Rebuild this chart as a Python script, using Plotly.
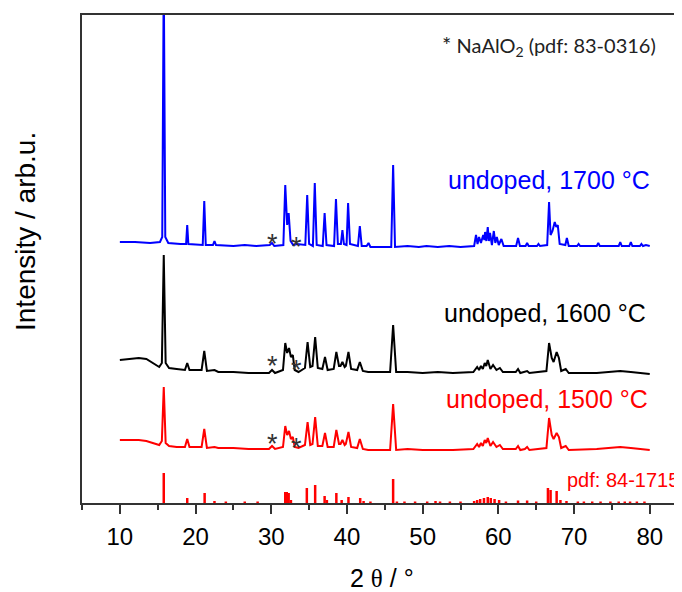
import plotly.graph_objects as go

# ---- data (2theta in degrees, intensity in arbitrary units incl. vertical offset) ----
tt_1700 = [10, 12, 14, 15.3, 15.6, 15.8, 16.0, 16.4, 18.0, 18.75, 18.9, 19.05, 20.95, 21.15, 21.35,
           22.3, 22.5, 22.7, 25, 26.5, 28, 29.8, 30.1, 30.4, 31.6, 31.85, 32.1, 32.3, 32.55, 32.9,
           33.4, 34.5, 34.75, 35.0, 35.5, 35.75, 36.0, 36.8, 37.05, 37.3, 38.3, 38.55, 38.8, 39.2,
           39.4, 39.6, 39.95, 40.15, 40.4, 41.45, 41.7, 41.95, 42.6, 42.85, 43.1, 45.85, 46.1, 46.35,
           48, 49.5, 50.5, 52, 53.5, 55, 56.8, 57.05, 57.25, 57.45, 57.7, 58.0, 58.15, 58.25, 58.42,
           58.6, 58.75, 58.9, 59.15, 59.4, 59.6, 59.8, 60.05, 60.4, 60.7, 62.35, 62.6, 62.85, 63.6,
           63.8, 64.0, 65.1, 65.3, 65.5, 66.45, 66.7, 66.9, 67.15, 67.45, 67.65, 67.85, 68.1, 68.85,
           69.05, 69.3, 70.4, 70.6, 70.8, 73.0, 73.2, 73.4, 75.9, 76.1, 76.3, 77.3, 77.5, 77.7, 78.7,
           78.9, 79.1, 79.5, 80]
int_1700 = [261, 261, 260, 261, 266, 530, 266, 260, 259, 259, 278, 259, 258, 302, 258,
            258, 262, 258, 257, 258, 257, 258, 260, 257, 258, 318, 278, 290, 262, 258,
            259, 258, 308, 259, 257, 320, 258, 257, 290, 258, 257, 304, 259, 259,
            273, 259, 258, 300, 259, 257, 277, 257, 257, 260, 256, 256, 338, 256,
            257, 256, 257, 256, 257, 256, 257, 268, 259, 266, 260, 268, 263, 271, 262,
            276, 262, 270, 258, 272, 260, 266, 258, 264, 257, 257, 265, 257, 257,
            260, 257, 257, 259, 257, 258, 301, 268, 272, 281, 276, 278, 259, 258,
            265, 257, 257, 259, 257, 257, 260, 257, 257, 261, 257, 257, 261, 257, 257,
            259, 257, 258, 257]

tt_1600 = [10, 11, 12.5, 13.5, 14.5, 15.2, 15.55, 15.8, 16.05, 16.5, 17.5, 18.6, 18.9, 19.2, 20.8,
           21.15, 21.5, 22.5, 23, 25, 27, 29.7, 30.1, 30.5, 31.55, 31.85, 32.1, 32.35, 32.6, 32.85,
           33.1, 33.6, 34.45, 34.8, 35.15, 35.45, 35.8, 36.15, 36.75, 37.1, 37.45, 38.25, 38.6, 38.95,
           39.15, 39.4, 39.7, 39.85, 40.2, 40.55, 41.35, 41.7, 42.1, 42.8, 45.7, 46.1, 46.5, 48, 50,
           52, 54, 56.7, 57.2, 57.45, 57.7, 57.95, 58.2, 58.4, 58.6, 58.95, 59.3, 59.75, 60.2, 60.6,
           62.3, 62.6, 62.9, 63.5, 63.8, 64.1, 65.3, 66.35, 66.7, 67.05, 67.3, 67.7, 68.0, 68.3, 68.9,
           69.3, 73, 76.1, 77.5, 80]
int_1600 = [143, 144, 145, 144, 139, 136, 140, 248, 140, 135, 134, 133, 140, 133, 133,
            152, 132, 133, 131, 131, 130, 130, 133, 130, 133, 160, 150, 155, 146, 148,
            133, 131, 135, 161, 136, 137, 166, 135, 134, 146, 133, 134, 151, 137,
            137, 141, 136, 137, 151, 134, 133, 141, 132, 131, 131, 178, 131, 131, 130,
            131, 130, 131, 136, 133, 137, 134, 140, 137, 143, 134, 138, 133, 135, 131,
            131, 134, 130, 131, 132, 130, 131, 132, 160, 145, 141, 151, 145, 132, 134,
            130, 130, 132, 131, 129]

tt_1500 = tt_1600
int_1500 = [63, 63, 63, 62, 60, 58, 62, 116, 60, 57, 56, 56, 64, 56, 56,
            74, 55, 56, 55, 55, 54, 54, 57, 54, 56, 77, 68, 72, 64, 66,
            56, 55, 58, 81, 58, 59, 86, 57, 57, 70, 56, 56, 73, 59,
            59, 63, 58, 59, 71, 56, 55, 64, 54, 53, 53, 99, 53, 54, 53,
            53, 53, 54, 59, 56, 60, 57, 63, 60, 65, 57, 61, 56, 58, 54,
            54, 57, 53, 54, 56, 53, 54, 55, 85, 68, 64, 70, 66, 55, 57,
            53, 54, 56, 55, 53]

# reference pattern pdf 84-1715 (stick positions / heights)
ref_pos = [15.8, 18.9, 21.2, 22.5, 24.0, 26.5, 28.2, 31.85, 32.05, 32.3, 32.6, 34.7, 35.8, 37.05,
           37.35, 38.6, 39.3, 40.2, 41.75, 42.2, 43.1, 46.1, 46.6, 47.6, 49.0, 50.6, 51.7, 52.3,
           53.6, 55.0, 56.8, 57.2, 57.6, 58.1, 58.6, 59.0, 59.5, 60.1, 61.0, 62.6, 63.8, 65.0,
           66.55, 66.9, 67.7, 68.2, 69.0, 70.5, 71.3, 72.4, 73.5, 74.8, 75.9, 76.7, 77.4, 78.3, 79.3]
ref_int = [30, 5, 10, 2, 1.5, 1.5, 1.5, 11, 11, 10, 3, 15, 18, 7,
           3, 10, 3, 6, 5, 2, 1.5, 24, 1.5, 1.5, 1.5, 1.5, 2, 1.5,
           1.5, 1.5, 2, 3, 4, 5, 6, 5, 4, 3, 1.5, 2.5, 2.5, 1.5,
           15, 13, 12, 3, 2, 1.5, 1.5, 1.5, 1.5, 1.5, 1.5, 1.5, 1.5, 1.5, 1.5]

# NaAlO2 marker positions (2theta, intensity) for each pattern
star_tt = [30.1, 33.4, 30.1, 33.4, 30.1, 33.4]
star_int = [266, 263, 144, 140, 66, 62]

x_ticks = [10, 20, 30, 40, 50, 60, 70, 80]

FONT = "Liberation Sans, Arial, sans-serif"

fig = go.Figure()

stick_x, stick_y = [], []
for p, h in zip(ref_pos, ref_int):
    stick_x += [p, p, None]
    stick_y += [0, h, None]
fig.add_trace(go.Scatter(x=stick_x, y=stick_y, mode="lines",
                         line=dict(color="#ff0000", width=2.5), hoverinfo="skip"))

fig.add_trace(go.Scatter(x=tt_1500, y=int_1500, mode="lines",
                         line=dict(color="#ff0000", width=2), name="1500"))
fig.add_trace(go.Scatter(x=tt_1600, y=int_1600, mode="lines",
                         line=dict(color="#000000", width=2), name="1600"))
fig.add_trace(go.Scatter(x=tt_1700, y=int_1700, mode="lines",
                         line=dict(color="#0000ff", width=2), name="1700"))

annotations = []
for sx, sy in zip(star_tt, star_int):
    annotations.append(dict(x=sx, y=sy, text="*", showarrow=False, xanchor="center",
                            yanchor="middle", yshift=-7,
                            font=dict(family=FONT, size=27, color="#333333")))

labels = [("undoped, 1700 °C", 80.3, 323, "#0000ff", 25),
          ("undoped, 1600 °C", 79.8, 190, "#000000", 25),
          ("undoped, 1500 °C", 80.0, 104, "#ff0000", 25),
          ("pdf: 84-1715", 84.1, 23, "#ff0000", 20)]
for t, x, y, c, s in labels:
    annotations.append(dict(x=x, y=y, text=t, showarrow=False, xanchor="right",
                            yanchor="middle", font=dict(family=FONT, size=s, color=c)))

annotations.append(dict(x=81.1, y=458, text="<span style='font-size:22px'>*</span> NaAlO<sub>2</sub> (pdf: 83-0316)",
                        showarrow=False, xanchor="right", yanchor="middle",
                        font=dict(family="Lato, Open Sans, sans-serif", size=20, color="#222222")))

annotations.append(dict(x=0, xref="paper", y=271, yref="y", xshift=-57, text="Intensity / arb.u.",
                        textangle=-90, showarrow=False, xanchor="center", yanchor="middle",
                        font=dict(family=FONT, size=28, color="#000000")))
annotations.append(dict(x=0.5, xref="paper", y=0, yref="paper", yshift=-75,
                        text="2 <span style='font-family:Liberation Serif, serif'>θ</span> / °",
                        showarrow=False, xanchor="center", yanchor="middle",
                        font=dict(family=FONT, size=25, color="#000000")))

# page body has an 8px margin -> figure is 8px smaller and margins compensated
fig.update_layout(
    width=674, height=584,
    margin=dict(l=74, r=0, t=7, b=89),
    paper_bgcolor="white", plot_bgcolor="white",
    showlegend=False,
    annotations=annotations,
    xaxis=dict(range=[5, 84.26], tickvals=x_ticks, ticktext=[str(v) for v in x_ticks],
               ticks="outside", ticklen=9, tickwidth=1.5, tickcolor="#333333",
               minor=dict(dtick=5, tick0=5, ticks="outside", ticklen=5, tickwidth=1.5, tickcolor="#333333"),
               showline=True, linecolor="#333333", linewidth=2, mirror=True,
               showgrid=False, zeroline=False,
               tickfont=dict(family=FONT, size=24, color="#000000"),
               ticklabelstandoff=2),
    yaxis=dict(range=[0, 488], showticklabels=False, ticks="", showline=True,
               linecolor="#333333", linewidth=2, showgrid=False, zeroline=False),
)

fig.write_html("out.html")
